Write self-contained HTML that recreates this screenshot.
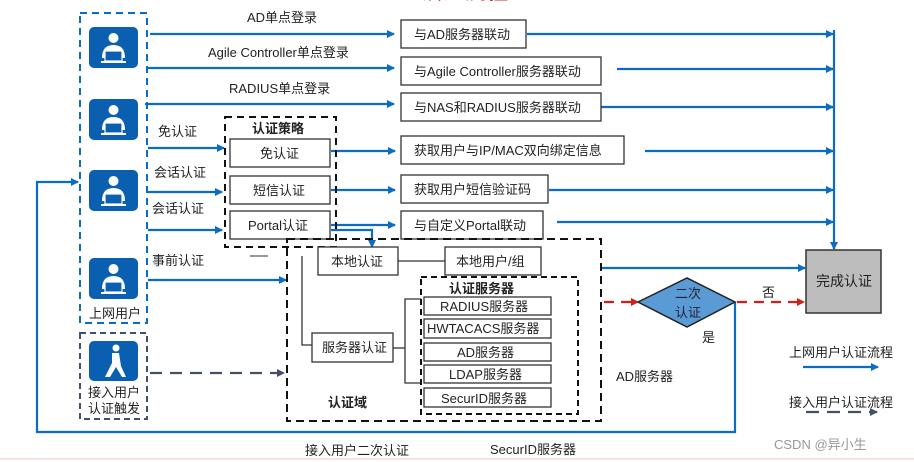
<!DOCTYPE html>
<html><head><meta charset="utf-8"><style>
body{margin:0;background:#fff;}
svg{display:block;}
text{font-family:"Liberation Sans","Noto Sans CJK SC",sans-serif;font-size:13px;fill:#222;}
</style></head><body>
<svg width="914" height="462" viewBox="0 0 914 462" xmlns="http://www.w3.org/2000/svg">
<defs>
<marker id="ab" markerWidth="8" markerHeight="8" refX="7" refY="4" orient="auto" markerUnits="userSpaceOnUse"><path d="M0,0 L8,4 L0,8 z" fill="#0b6cc4"/></marker>
<marker id="ar" markerWidth="8" markerHeight="8" refX="7" refY="4" orient="auto" markerUnits="userSpaceOnUse"><path d="M0,0 L8,4 L0,8 z" fill="#d0201a"/></marker>
<marker id="ag" markerWidth="8" markerHeight="8" refX="7" refY="4" orient="auto" markerUnits="userSpaceOnUse"><path d="M0,0 L8,4 L0,8 z" fill="#445066"/></marker>
<g id="usr">
<rect x="0" y="0" width="49" height="41" rx="5" fill="#0b5fb0"/>
<circle cx="24.5" cy="11" r="5" fill="#fff"/>
<path d="M13,31 Q13,18 24.5,18 Q36,18 36,31 z" fill="#fff"/>
<rect x="16" y="24" width="17" height="10" fill="#0b5fb0" stroke="#fff" stroke-width="1.2"/>
<rect x="12" y="34" width="25" height="2" fill="#fff"/>
</g>
</defs>
<text x="420" y="-1" style="font-size:22px;fill:#c0302a;font-weight:bold">认证流程</text>

<!-- user boxes -->
<rect x="80" y="13" width="67" height="310" fill="none" stroke="#0b6cc4" stroke-width="2" stroke-dasharray="7,5"/>
<use href="#usr" x="89" y="27"/><use href="#usr" x="89" y="99"/><use href="#usr" x="89" y="170"/><use href="#usr" x="89" y="258"/>
<text x="89" y="318">上网用户</text>
<rect x="80" y="333" width="67" height="86" fill="none" stroke="#445066" stroke-width="2" stroke-dasharray="6,4"/>
<rect x="89" y="341" width="49" height="40" rx="5" fill="#0b5fb0"/>
<circle cx="116" cy="348" r="3.5" fill="#fff"/>
<path d="M112,353 L119,353 L121,366 L126,377 L122,377 L116,367 L110,377 L105,377 L112,363 z" fill="#fff"/>
<text x="88" y="397">接入用户</text><text x="88" y="413">认证触发</text>

<!-- top arrows -->
<g stroke="#0b6cc4" stroke-width="2.2" fill="none" marker-end="url(#ab)">
<line x1="150" y1="34" x2="394" y2="34"/>
<line x1="148" y1="68" x2="394" y2="68"/>
<line x1="145" y1="104" x2="394" y2="104"/>
<line x1="148" y1="148" x2="224" y2="148"/>
<line x1="148" y1="192" x2="222" y2="192"/>
<line x1="148" y1="230" x2="222" y2="230"/>
<line x1="148" y1="280" x2="286" y2="280"/>
<line x1="331" y1="151" x2="395" y2="151"/>
<line x1="331" y1="190" x2="395" y2="190"/>
<line x1="331" y1="225" x2="395" y2="225"/>
<polyline points="331,230 372,230 372,247"/>
<line x1="527" y1="34" x2="833" y2="34"/>
<line x1="617" y1="69" x2="833" y2="69"/>
<line x1="601" y1="107" x2="833" y2="107"/>
<line x1="645" y1="151" x2="833" y2="151"/>
<line x1="549" y1="190" x2="833" y2="190"/>
<line x1="557" y1="222" x2="833" y2="222"/>
<polyline points="834,30 834,249"/>
<line x1="602" y1="268" x2="805" y2="268"/>
<polyline points="735,302 735,432 37,432 37,182 78,182"/>
<line x1="803" y1="367" x2="878" y2="367"/>
</g>
<text x="247" y="22">AD单点登录</text>
<text x="208" y="57">Agile Controller单点登录</text>
<text x="229" y="93">RADIUS单点登录</text>
<text x="158" y="136">免认证</text>
<text x="154" y="177">会话认证</text>
<text x="152" y="213">会话认证</text>
<text x="152" y="265">事前认证</text>

<!-- right boxes -->
<g fill="#fff" stroke="#333" stroke-width="1.3">
<rect x="401" y="20" width="125" height="28"/>
<rect x="401" y="57" width="200" height="28"/>
<rect x="401" y="93" width="200" height="28"/>
<rect x="401" y="136" width="223" height="28"/>
<rect x="401" y="175" width="147" height="28"/>
<rect x="401" y="211" width="142" height="28"/>
</g>
<text x="414" y="39">与AD服务器联动</text>
<text x="414" y="76">与Agile Controller服务器联动</text>
<text x="414" y="112">与NAS和RADIUS服务器联动</text>
<text x="414" y="155">获取用户与IP/MAC双向绑定信息</text>
<text x="414" y="194">获取用户短信验证码</text>
<text x="414" y="230">与自定义Portal联动</text>

<!-- strategy -->
<rect x="225" y="117" width="111" height="130" fill="none" stroke="#111" stroke-width="2" stroke-dasharray="7,5"/>
<text x="252" y="133" style="font-weight:bold">认证策略</text>
<g fill="#fff" stroke="#333" stroke-width="1.3">
<rect x="230" y="139" width="100" height="28"/><rect x="230" y="176" width="100" height="28"/><rect x="230" y="211" width="100" height="28"/>
</g>
<text x="260" y="158">免认证</text><text x="253" y="195">短信认证</text><text x="248" y="230">Portal认证</text>

<!-- domain -->
<rect x="287" y="239" width="314" height="182" fill="none" stroke="#111" stroke-width="2" stroke-dasharray="8,5"/>
<line x1="250" y1="256" x2="268" y2="256" stroke="#333" stroke-width="1"/>
<rect x="318" y="247" width="80" height="28" fill="#fff" stroke="#333" stroke-width="1.3"/>
<text x="331" y="266">本地认证</text>
<line x1="398" y1="261" x2="445" y2="261" stroke="#333" stroke-width="1.3"/>
<rect x="445" y="247" width="96" height="28" fill="#fff" stroke="#333" stroke-width="1.3"/>
<text x="456" y="266">本地用户/组</text>
<polyline points="302,256 302,345 312,345" fill="none" stroke="#333" stroke-width="1.3"/>
<rect x="312" y="333" width="81" height="29" fill="#fff" stroke="#333" stroke-width="1.3"/>
<text x="322" y="352">服务器认证</text>
<polyline points="393,348 405,348" fill="none" stroke="#333" stroke-width="1.3"/>
<polyline points="421,299 405,299 405,383 421,383" fill="none" stroke="#333" stroke-width="1.3"/>
<rect x="421" y="277" width="157" height="137" fill="none" stroke="#111" stroke-width="2" stroke-dasharray="6,4"/>
<text x="449" y="293" style="font-weight:bold">认证服务器</text>
<g fill="#fff" stroke="#333" stroke-width="1.3">
<rect x="424" y="297" width="127" height="18"/><rect x="424" y="319" width="127" height="19"/><rect x="424" y="343" width="127" height="18"/><rect x="424" y="365" width="127" height="18"/><rect x="424" y="388" width="127" height="19"/>
</g>
<text x="440" y="311">RADIUS服务器</text>
<text x="427" y="333">HWTACACS服务器</text>
<text x="457" y="357">AD服务器</text>
<text x="449" y="379">LDAP服务器</text>
<text x="441" y="403">SecurID服务器</text>
<text x="328" y="407" style="font-weight:bold">认证域</text>
<line x1="150" y1="373" x2="284" y2="373" stroke="#445066" stroke-width="2.2" stroke-dasharray="12,8" marker-end="url(#ag)"/>

<!-- right side -->
<rect x="806" y="250" width="75" height="63" fill="#bdbdbd" stroke="#333" stroke-width="1.5"/>
<text x="816" y="286" style="font-size:14px">完成认证</text>
<line x1="604" y1="302" x2="638" y2="302" stroke="#d0201a" stroke-width="2.2" stroke-dasharray="10,7" marker-end="url(#ar)"/>
<polygon points="638,302 687,278 735,302 687,327" fill="#5b9bd5" stroke="#222" stroke-width="1.5"/>
<text x="675" y="298" style="fill:#223">二次</text><text x="675" y="317" style="fill:#223">认证</text>
<line x1="737" y1="302" x2="804" y2="302" stroke="#d0201a" stroke-width="2.2" stroke-dasharray="10,7" marker-end="url(#ar)"/>
<text x="762" y="297">否</text><text x="702" y="342">是</text>
<text x="616" y="381">AD服务器</text>
<text x="789" y="357">上网用户认证流程</text>
<text x="789" y="407">接入用户认证流程</text>
<line x1="806" y1="412" x2="877" y2="412" stroke="#445066" stroke-width="2.2" stroke-dasharray="13,8" marker-end="url(#ag)"/>
<text x="305" y="455">接入用户二次认证</text>
<text x="490" y="454">SecurID服务器</text>
<text x="774" y="449" style="fill:#999">CSDN @异小生</text>
<line x1="0" y1="459" x2="914" y2="459" stroke="#f0c8c0" stroke-width="1"/>
</svg>
</body></html>
